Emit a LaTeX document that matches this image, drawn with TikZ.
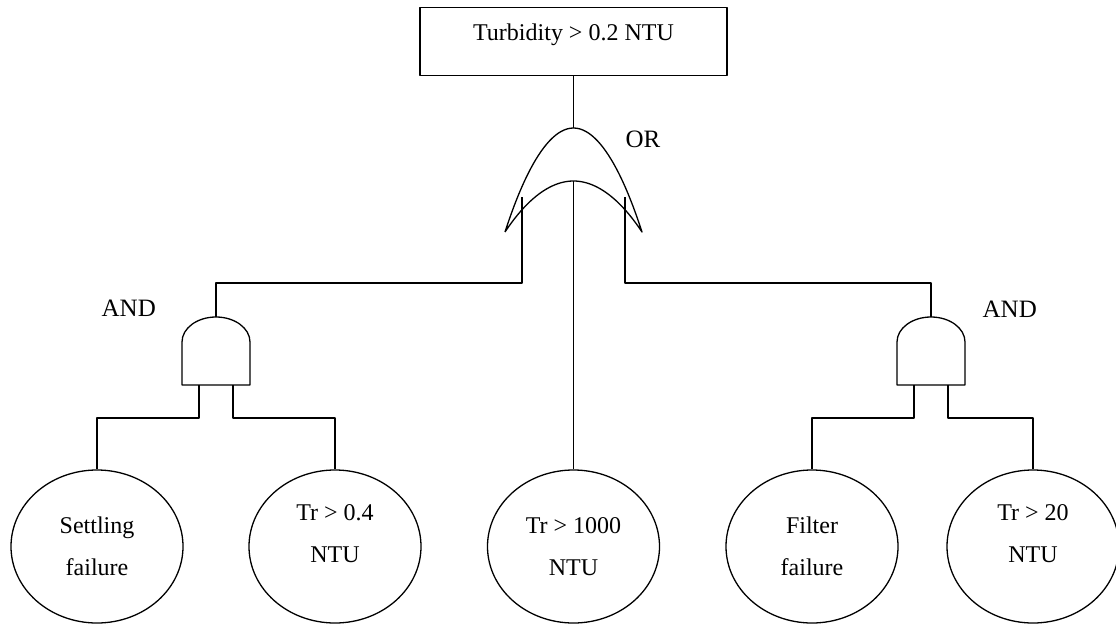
\documentclass[tikz,border=0pt]{standalone}
\usepackage{fontspec}
\setmainfont{Liberation Serif}
\usetikzlibrary{shapes.geometric}
\begin{document}
\begin{tikzpicture}[x=1pt,y=-1pt,line width=1.3pt,line join=round,
  event/.style={draw,ellipse,minimum width=172pt,minimum height=153pt,inner sep=0pt,
    align=center,font=\fontsize{24}{42}\selectfont},
  raised/.style={text depth=26pt},
  gatelabel/.style={inner sep=0pt,anchor=base west,font=\fontsize{25}{30}\selectfont}]
  \useasboundingbox (0,0) rectangle (1116,626);
  \node[draw,anchor=north,minimum width=307pt,inner xsep=0pt,inner ysep=0pt,
    text height=33pt,text depth=35pt,font=\fontsize{24}{28}\selectfont] (top) at (573.5,7) {Turbidity > 0.2 NTU};
  \node[event] (set) at (97,546.5) {Settling\\failure};
  \node[event,raised] (tr1) at (335,546.5) {Tr > 0.4\\NTU};
  \node[event] (tr2) at (573.5,546.5) {Tr > 1000\\NTU};
  \node[event] (fil) at (812,546.5) {Filter\\failure};
  \node[event,raised] (tr3) at (1033,546.5) {Tr > 20\\NTU};
  \coordinate (orout) at (573.5,128);
  \coordinate (orin) at (573.5,181);
  \coordinate (orl) at (522,197);
  \coordinate (orr) at (625,197);
  \draw (505,232) parabola bend (orout) (642,232) parabola bend (orin) (505,232);
  \node[gatelabel] (orlab) at (625,147) {OR};
  \coordinate (andlout) at (216,317);
  \coordinate (andla) at (199,385);
  \coordinate (andlb) at (233,385);
  \draw (182,385) -- (182,342) arc (180:0:34pt and 25pt) -- (250,385) -- cycle;
  \node[gatelabel] (andllab) at (101,316) {AND};
  \coordinate (androut) at (931,317);
  \coordinate (andra) at (914,385);
  \coordinate (andrb) at (948,385);
  \draw (897,385) -- (897,342) arc (180:0:34pt and 25pt) -- (965,385) -- cycle;
  \node[gatelabel] (andrlab) at (982,317) {AND};
  \draw (top) -- (orout);
  \draw (orin) -- (tr2);
  \draw (orl) -- ++(0,86) -| (andlout);
  \draw (orr) -- ++(0,86) -| (androut);
  \draw (andla) -- ++(0,33) -| (set);
  \draw (andlb) -- ++(0,33) -| (tr1);
  \draw (andra) -- ++(0,33) -| (fil);
  \draw (andrb) -- ++(0,33) -| (tr3);
\end{tikzpicture}
\end{document}
